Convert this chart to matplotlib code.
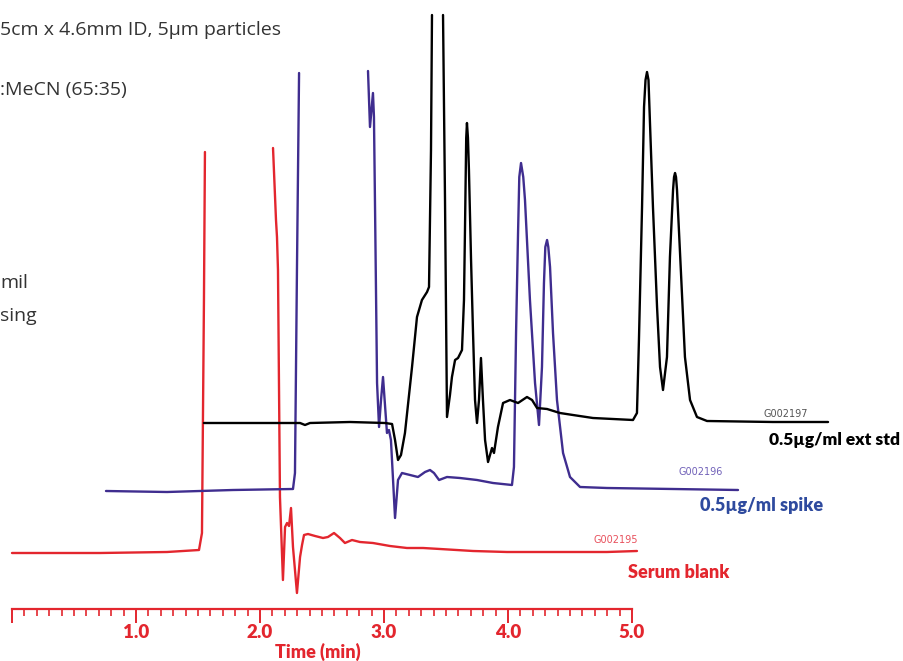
import numpy as np
import matplotlib
matplotlib.use('Agg')
import matplotlib.pyplot as plt
from matplotlib.ticker import FixedLocator

# retention time (min) and detector response (relative to each trace's own baseline)
nan = np.nan

std_time = [1.548, 1.919, 2.323, 2.363, 2.403, 2.726, 3.008, 3.065, 3.089, 3.113, 3.137, 3.169,
            3.226, 3.266, 3.306, 3.347, 3.363, 3.379, 3.387, nan, 3.476, 3.492, 3.508, 3.532,
            3.548, 3.573, 3.597, 3.629, 3.645, 3.653, 3.663, 3.669, 3.677, 3.685, 3.702, 3.718,
            3.726, 3.734, 3.750, 3.766, 3.782, 3.798, 3.815, 3.839, 3.871, 3.887, 3.919, 3.960,
            4.016, 4.081, 4.153, 4.194, 4.234, 4.315, 4.419, 4.524, 4.685, 5.008, 5.040, 5.056,
            5.081, 5.097, 5.109, 5.121, 5.133, 5.145, 5.169, 5.202, 5.226, 5.250, 5.282, 5.306,
            5.331, 5.339, 5.347, 5.355, 5.363, 5.395, 5.427, 5.468, 5.524, 5.605, 6.137, 6.581]
std_resp = [0, 0, 0, -2, 0, 1, 0, -1, -17, -37, -32, -10,
            56, 106, 123, 131, 136, 273, 408, nan, 408, 223, 6, 28,
            46, 63, 65, 73, 123, 193, 285, 300, 285, 253, 163, 90,
            56, 23, 0, 23, 65, 23, -17, -39, -25, -30, -4, 20,
            23, 20, 26, 23, 15, 14, 10, 8, 5, 3, 10, 83,
            216, 316, 343, 351, 343, 300, 216, 116, 56, 33, 66, 166,
            233, 246, 250, 246, 233, 150, 66, 23, 6, 2, 1, 1]

spike_time = [0.758, 1.250, 1.782, 2.266, 2.282, 2.298, 2.315, nan, 2.871, 2.887, 2.911, 2.919,
              2.927, 2.944, 2.960, 2.976, 2.992, 3.008, 3.024, 3.040, 3.056, 3.073, 3.089, 3.113,
              3.145, 3.210, 3.274, 3.331, 3.371, 3.403, 3.444, 3.508, 3.613, 3.750, 3.879, 4.032,
              4.048, 4.065, 4.081, 4.091, 4.105, 4.123, 4.137, 4.177, 4.218, 4.250, 4.274, 4.290,
              4.301, 4.315, 4.325, 4.339, 4.363, 4.395, 4.444, 4.500, 4.581, 4.798, 5.331, 5.855]
spike_resp = [-1, -2, 0, 1, 17, 220, 417, nan, 419, 363, 397, 373,
              290, 107, 63, 90, 113, 85, 57, 60, 50, 10, -28, 10,
              17, 15, 13, 18, 20, 17, 10, 13, 12, 10, 7, 5,
              23, 157, 257, 313, 327, 313, 290, 190, 107, 65, 123, 207,
              243, 250, 243, 223, 157, 90, 37, 13, 3, 2, 1, 0]

blank_time = [0.0, 0.710, 1.250, 1.508, 1.532, 1.548, 1.556, nan, 2.105, 2.129, 2.137, 2.145,
              2.161, 2.185, 2.202, 2.218, 2.234, 2.250, 2.266, 2.298, 2.323, 2.339, 2.355, 2.387,
              2.444, 2.508, 2.548, 2.597, 2.645, 2.685, 2.742, 2.806, 2.911, 3.048, 3.185, 3.315,
              3.452, 3.718, 3.992, 4.258, 4.524, 4.798, 5.040]
blank_resp = [0, 0, 1, 3, 20, 253, 401, nan, 405, 333, 316, 283,
              56, -27, 26, 30, 27, 45, 6, -40, -4, 8, 18, 19,
              17, 15, 16, 20, 15, 10, 13, 11, 10, 7, 5, 5,
              4, 2, 1, 1, 1, 1, 2]

traces = ['Serum blank', '0.5\u00b5g/ml spike', '0.5\u00b5g/ml ext std']
file_ids = ['G002195', 'G002196', 'G002197']
offsets = [108, 171, 238]

major_ticks = [0, 1, 2, 3, 4, 5]
major_labels = ['', '1.0', '2.0', '3.0', '4.0', '5.0']

notes = ['5cm x 4.6mm ID, 5\u00b5m particles', ':MeCN (65:35)', 'mil', 'sing']

red = '#e3262e'
purple = '#3f2d8f'
bold_font = ['Lato', 'DejaVu Sans']

fig = plt.figure(figsize=(9.04, 6.61), dpi=100)
ax = fig.add_axes([0, 0, 1, 1])
ax.set_xlim(-12 / 124, 892 / 124)
ax.set_ylim(0, 661)

line_kw = dict(lw=1.7, solid_joinstyle='round', solid_capstyle='round')
ax.plot(blank_time, np.array(blank_resp) + offsets[0], color=red, **line_kw)
ax.plot(spike_time, np.array(spike_resp) + offsets[1], color=purple, **line_kw)
ax.plot(std_time, np.array(std_resp) + offsets[2], color='black', **line_kw)

# time axis
for s in ['top', 'right', 'left']:
    ax.spines[s].set_visible(False)
ax.spines['bottom'].set_position(('data', 52))
ax.spines['bottom'].set_bounds(0, 5)
ax.spines['bottom'].set_color(red)
ax.spines['bottom'].set_linewidth(1.6)
ax.set_yticks([])
ax.xaxis.set_major_locator(FixedLocator(major_ticks))
ax.xaxis.set_minor_locator(FixedLocator(np.round(np.arange(0, 5.01, 0.1), 2)))
ax.set_xticklabels(major_labels)
ax.tick_params(axis='x', which='major', direction='out', length=10, width=1.4, color=red,
               labelcolor=red, pad=1, labelsize=13.5)
ax.tick_params(axis='x', which='minor', direction='out', length=5, width=1.2, color=red)
for lab in ax.get_xticklabels():
    lab.set_fontweight('heavy')
    lab.set_fontfamily(bold_font)
ax.text(2.47, 9, 'Time (min)', color=red, fontsize=13, fontweight='heavy',
        family=bold_font, ha='center', va='center')

# trace labels
ax.text(4.87, 121, file_ids[0], color='#e8505c', fontsize=7, ha='center', va='center')
ax.text(5.55, 189, file_ids[1], color='#7060b8', fontsize=7, ha='center', va='center')
ax.text(6.24, 247, file_ids[2], color='#555555', fontsize=7, ha='center', va='center')
ax.text(4.968, 89, traces[0], color=red, fontsize=13, fontweight='heavy', family=bold_font,
        ha='left', va='center')
ax.text(5.548, 156, traces[1], color='#2e4a9e', fontsize=13, fontweight='heavy', family=bold_font,
        ha='left', va='center')
ax.text(7.161, 221, traces[2], color='black', fontsize=12.5, fontweight='heavy', family=bold_font,
        ha='right', va='center')

# method notes (partly off the left edge in the original)
for txt, py in zip(notes, [30, 90, 283, 316]):
    fig.text(0.0, 1 - py / 661, txt, color='#333333', fontsize=14,
             family=['Open Sans', 'DejaVu Sans'], ha='left', va='center')

fig.savefig('out.png', dpi=100)
